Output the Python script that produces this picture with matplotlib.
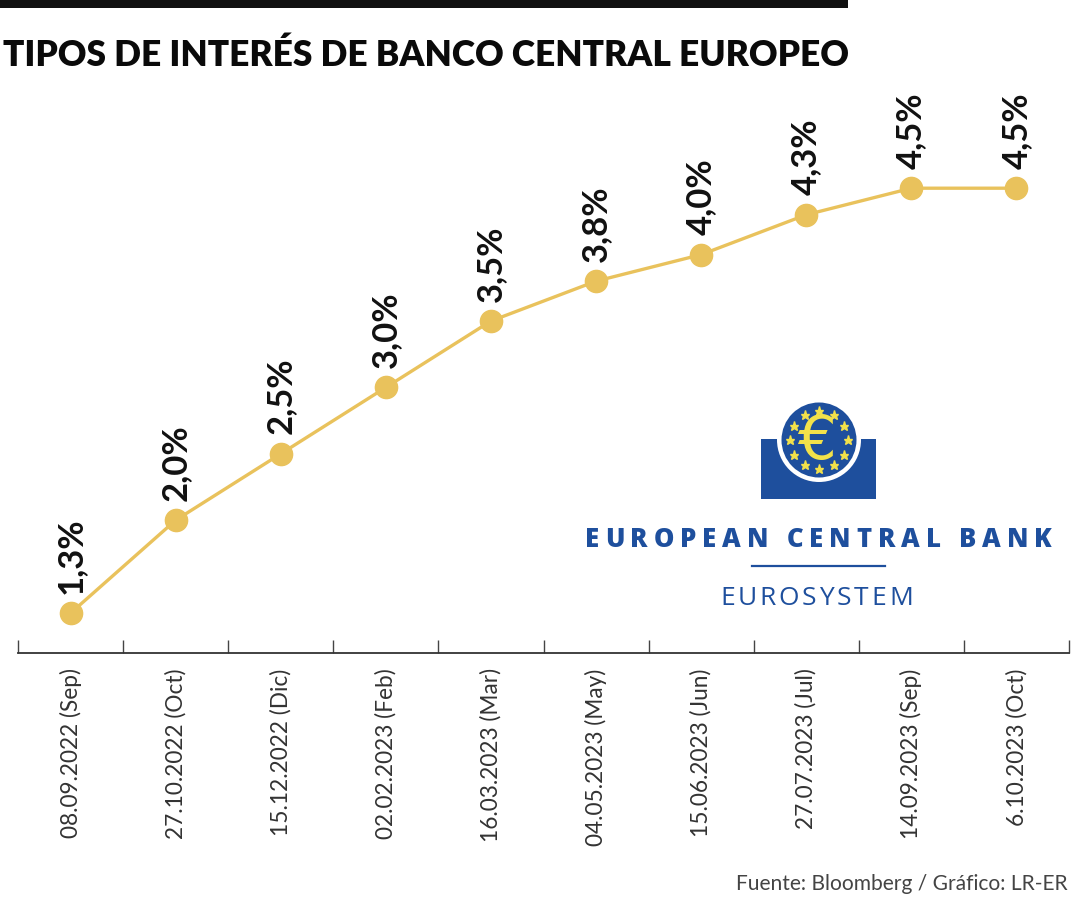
import matplotlib
matplotlib.use("Agg")
import matplotlib.pyplot as plt
from matplotlib import font_manager
from matplotlib.font_manager import FontProperties
from matplotlib.patches import Rectangle, Circle
import numpy as np

# ---------------- data ----------------
dates = ["08.09.2022 (Sep)", "27.10.2022 (Oct)", "15.12.2022 (Dic)", "02.02.2023 (Feb)",
         "16.03.2023 (Mar)", "04.05.2023 (May)", "15.06.2023 (Jun)", "27.07.2023 (Jul)",
         "14.09.2023 (Sep)", "6.10.2023 (Oct)"]
rates = [1.3, 2.0, 2.5, 3.0, 3.5, 3.8, 4.0, 4.3, 4.5, 4.5]
rate_labels = ["1,3%", "2,0%", "2,5%", "3,0%", "3,5%", "3,8%", "4,0%", "4,3%", "4,5%", "4,5%"]
title = "TIPOS DE INTERÉS DE BANCO CENTRAL EUROPEO"
source = "Fuente: Bloomberg / Gráfico: LR-ER"
logo_main = "EUROPEAN CENTRAL BANK"
logo_sub = "EUROSYSTEM"

# ---------------- fonts ----------------
names = {f.name for f in font_manager.fontManager.ttflist}
COND = "Liberation Sans Narrow" if "Liberation Sans Narrow" in names else "Lato"
MAIN = "Lato" if "Lato" in names else "DejaVu Sans"
LOGO = "Open Sans" if "Open Sans" in names else MAIN

LINE_C = "#E9C25C"
BLUE = "#1E4F9D"
YELLOW = "#F2E14A"

W, H = 1080, 900
fig = plt.figure(figsize=(W / 100, H / 100), dpi=100)
fig.patch.set_facecolor("white")
renderer = fig.canvas.get_renderer()


def fit_size(s, target, family, weight="normal"):
    prop = FontProperties(family=family, weight=weight, size=20)
    w = renderer.get_text_width_height_descent(s, prop, ismath=False)[0]
    return 20 * target / w


# ---------------- main axes ----------------
ax_left, ax_right, ax_bottom_px, ax_top_px = 18, 1069, 653, 80
ax = fig.add_axes([ax_left / W, 1 - ax_bottom_px / H, (ax_right - ax_left) / W,
                   (ax_bottom_px - ax_top_px) / H])
ppu = 132.8
ax.set_xlim(-0.5, len(dates) - 0.5)
ax.set_ylim(1.0, 1.0 + (ax_bottom_px - ax_top_px) / ppu)
ax.patch.set_alpha(0)

x = np.arange(len(dates))
ax.plot(x, rates, color=LINE_C, lw=2.4, marker="o", ms=16, mec=LINE_C, mfc=LINE_C,
        zorder=3, clip_on=False)

lab_fs = fit_size("4,5%", 77, MAIN, "bold")
for xi, yi, s in zip(x, rates, rate_labels):
    ax.annotate(s, (xi, yi), xytext=(0, 14), textcoords="offset points",
                rotation=90, ha="center", va="bottom", fontsize=lab_fs,
                fontweight="bold", family=MAIN, color="#111111")

for sp in ["top", "left", "right"]:
    ax.spines[sp].set_visible(False)
ax.spines["bottom"].set_color("#333333")
ax.spines["bottom"].set_linewidth(1.3)
ax.set_yticks([])

tick_fs = fit_size(dates[0], 170, COND, "normal")
ax.set_xticks(x)
ax.set_xticklabels(dates, rotation=90, fontsize=tick_fs, family=COND,
                   fontweight="normal", color="#333333", va="top", ha="center")
ax.tick_params(axis="x", which="major", length=0, pad=11)
ax.set_xticks(np.arange(-0.5, len(dates), 1.0), minor=True)
ax.tick_params(axis="x", which="minor", direction="in", length=9.5, width=1.0,
               color="#444444")

# ---------------- overlay (pixel coordinates) ----------------
ov = fig.add_axes([0, 0, 1, 1])
ov.set_xlim(0, W)
ov.set_ylim(H, 0)
ov.axis("off")
ov.patch.set_alpha(0)

ov.add_patch(Rectangle((0, 0), 848, 8, color="#111111", lw=0))
title_fs = fit_size(title, 845, COND, "heavy")
ov.text(3, 66, title, ha="left", va="baseline", fontsize=title_fs,
        fontweight="heavy", family=COND, color="#0a0a0a")

src_fs = fit_size(source, 333, COND, "normal")
ov.text(1068, 890, source, ha="right", va="baseline", fontsize=src_fs,
        family=COND, fontweight="normal", color="#444444")

# ECB logo
cx, cy = 819, 440
ov.add_patch(Rectangle((761, 439), 115, 60, color=BLUE, lw=0, zorder=2))
ov.add_patch(Circle((cx, cy), 42, color="white", lw=0, zorder=3))
ov.add_patch(Circle((cx, cy), 37.5, color=BLUE, lw=0, zorder=4))
ang = np.deg2rad(np.arange(0, 360, 30))
ov.plot(cx + 29 * np.sin(ang), cy - 29 * np.cos(ang), ls="none", marker="*",
        ms=6.5, color=YELLOW, mec=YELLOW, zorder=5)
ov.text(cx - 3, cy + 2, "€", ha="center", va="center", fontsize=44,
        family="DejaVu Sans", fontweight="normal", color=YELLOW, zorder=6)


def tracked(s, x0, x1, baseline, fs, weight):
    prop = FontProperties(family=LOGO, weight=weight, size=fs)
    widths = [renderer.get_text_width_height_descent(c, prop, ismath=False)[0] for c in s]
    gap = (x1 - x0 - sum(widths)) / (len(s) - 1)
    xx = x0
    for c, w in zip(s, widths):
        ov.text(xx, baseline, c, ha="left", va="baseline", fontsize=fs,
                fontweight=weight, family=LOGO, color=BLUE)
        xx += w + gap


tracked(logo_main, 585, 1052, 547, 18.5, "heavy")
ov.plot([752, 885], [566, 566], color=BLUE, lw=1.6)
tracked(logo_sub, 720, 913, 605, 19, "normal")

fig.savefig("out.png", dpi=100, facecolor="white")
